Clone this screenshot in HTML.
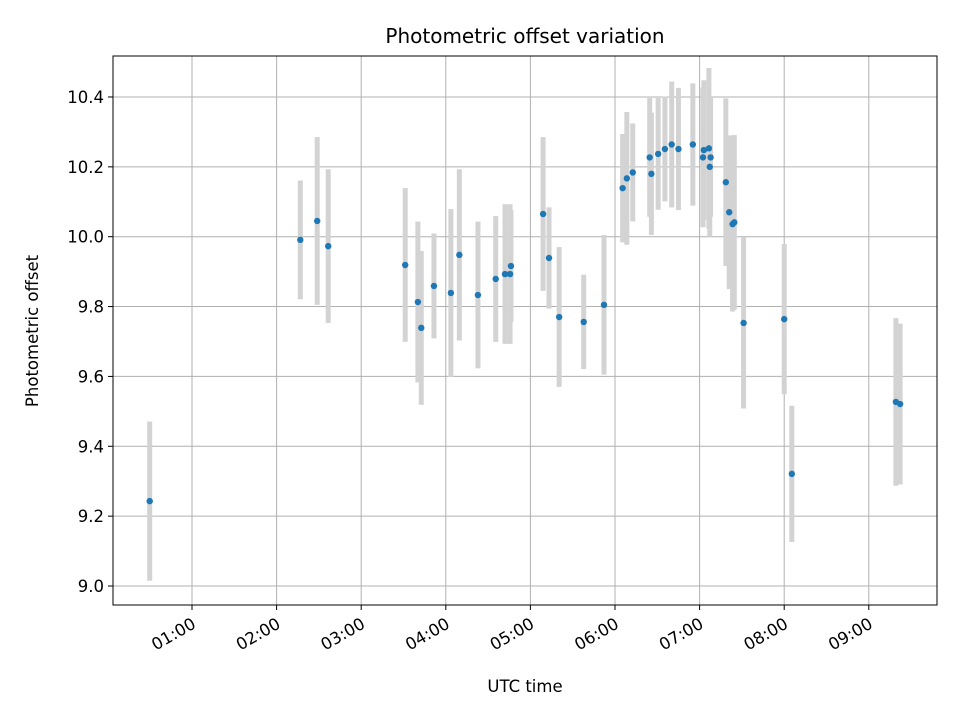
<!DOCTYPE html>
<html><head><meta charset="utf-8"><style>
body{margin:0;background:#fff;}
svg text{font-family:"DejaVu Sans","Liberation Sans",sans-serif;fill:#000;}
</style></head><body>
<svg id="chart" width="960" height="720" viewBox="0 0 960 720">
<text x="525" y="43" font-size="20" text-anchor="middle">Photometric offset variation</text>
<text x="525" y="692" font-size="16.5" text-anchor="middle">UTC time</text>
<text transform="translate(38,331) rotate(-90)" font-size="16.5" text-anchor="middle">Photometric offset</text>
<g id="grid"></g><g id="bars"></g><g id="pts"></g><g id="ticks"></g>
<rect x="113" y="56" width="824" height="549" fill="none" stroke="#000" stroke-width="1"/>
</svg>
<script>
const hours=[0.50,2.28,2.48,2.61,3.52,3.67,3.71,3.86,4.06,4.16,4.38,4.59,4.70,4.76,4.77,5.15,5.22,5.34,5.63,5.87,6.09,6.14,6.21,6.41,6.43,6.51,6.59,6.67,6.75,6.92,7.04,7.05,7.11,7.12,7.13,7.31,7.35,7.39,7.41,7.52,8.00,8.09,9.32,9.37];
const offsets=[9.243,9.991,10.045,9.973,9.919,9.813,9.739,9.859,9.839,9.948,9.833,9.879,9.893,9.893,9.916,10.065,9.939,9.770,9.756,9.805,10.139,10.167,10.184,10.227,10.180,10.237,10.251,10.264,10.251,10.264,10.227,10.248,10.253,10.200,10.227,10.156,10.070,10.036,10.041,9.753,9.764,9.321,9.527,9.521];
const errors=[0.228,0.17,0.24,0.22,0.22,0.23,0.22,0.15,0.24,0.245,0.21,0.18,0.2,0.2,0.16,0.22,0.145,0.2,0.135,0.2,0.155,0.19,0.14,0.17,0.175,0.16,0.15,0.18,0.175,0.175,0.2,0.2,0.23,0.2,0.17,0.24,0.22,0.25,0.25,0.245,0.215,0.195,0.24,0.23];
const xTicks=[1,2,3,4,5,6,7,8,9];
const xTickLabels=["01:00","02:00","03:00","04:00","05:00","06:00","07:00","08:00","09:00"];
const yTicks=[9.0,9.2,9.4,9.6,9.8,10.0,10.2,10.4];
const NS='http://www.w3.org/2000/svg';
const X=h=>192+(h-1)*84.6;
const Y=v=>586-(v-9.0)*349.3;
function mk(tag,attrs,parent){const e=document.createElementNS(NS,tag);for(const k in attrs)e.setAttribute(k,attrs[k]);document.getElementById(parent).appendChild(e);return e;}
xTicks.forEach((t,i)=>{
 const x=X(t);
 const g=mk('line',{x1:x,x2:x,y1:56,y2:605,stroke:'#b0b0b0','stroke-width':1},'grid');
 
 
 const tk=mk('line',{x1:x,x2:x,y1:605,y2:610,stroke:'#000'},'ticks');
 
 
 const tx=mk('text',{x:x+5,y:627,'font-size':16.5,'text-anchor':'end',transform:`rotate(-30 ${x+5} 627)`},'ticks');
 tx.textContent=xTickLabels[i];
 
 
});
yTicks.forEach(t=>{
 const y=Y(t);
 const g=mk('line',{x1:113,x2:937,y1:y,y2:y,stroke:'#b0b0b0','stroke-width':1},'grid');
 
 
 const tk=mk('line',{x1:108,x2:113,y1:y,y2:y,stroke:'#000'},'ticks');
 
 
 const tx=mk('text',{x:104,y:y+6,'font-size':16.5,'text-anchor':'end'},'ticks');
 tx.textContent=t.toFixed(1);
 
 
});
hours.forEach((h,i)=>{
 const x=X(h);
 const b=mk('line',{x1:x,x2:x,y1:Y(offsets[i]+errors[i]),y2:Y(offsets[i]-errors[i]),stroke:'#d3d3d3','stroke-width':5},'bars');
 
 
 const p=mk('circle',{cx:x,cy:Y(offsets[i]),r:3.2,fill:'#1f77b4'},'pts');
 
 
});
</script>
</body></html>
